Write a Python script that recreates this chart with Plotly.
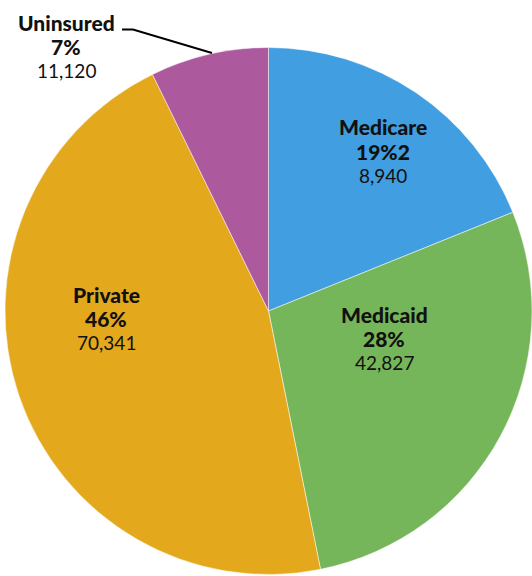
import plotly.graph_objects as go

categories = ["Medicare", "Medicaid", "Private", "Uninsured"]
enrollees = [28940, 42827, 70341, 11120]
colors = ["#419EE1", "#76B65A", "#E3A81C", "#AC599E"]

W, H = 532, 576
ML, MR, MT, MB = 5, 0, 46, 0
PW, PH = W - ML - MR, H - MT - MB


def px(x):
    return (x - ML) / PW


def py(y):
    return 1 - (y - MT) / PH


total = sum(enrollees)
pcts = [round(v / total * 100) for v in enrollees]
vals = [f"{v:,}" for v in enrollees]

label_lines = []
for c, p, v in zip(categories, pcts, vals):
    if c == "Medicare":
        label_lines.append([(c, True), (f"{p}%{v[0]}", True), (v[1:], False)])
    else:
        label_lines.append([(c, True), (f"{p}%", True), (v, False)])

# label centers in pixels (middle line)
label_pos = [(383, 151), (384, 338), (106, 318), (66, 46)]
LINE = 24

fig = go.Figure(
    go.Pie(
        labels=categories,
        values=enrollees,
        sort=False,
        direction="clockwise",
        rotation=0,
        marker=dict(colors=colors, line=dict(color="white", width=0.5)),
        textinfo="none",
        hoverinfo="label+value+percent",
        showlegend=False,
        domain=dict(x=[0, 1], y=[0, 1]),
    )
)

annotations = []
for lines, (x, y) in zip(label_lines, label_pos):
    for i, (t, bold) in enumerate(lines):
        annotations.append(
            dict(
                text=t,
                x=px(x),
                y=py(y + (i - 1) * LINE),
                xref="paper",
                yref="paper",
                xanchor="center",
                yanchor="middle",
                showarrow=False,
                font=dict(
                    family="Lato, Open Sans, sans-serif",
                    size=21 if bold else 19,
                    color="#111111",
                    weight=900 if bold else 400,
                ),
            )
        )

fig.update_layout(
    width=W,
    height=H,
    margin=dict(l=ML, r=MR, t=MT, b=MB),
    paper_bgcolor="white",
    plot_bgcolor="white",
    annotations=annotations,
    shapes=[
        dict(
            type="path",
            xref="paper",
            yref="paper",
            path=f"M {px(122)} {py(29.5)} L {px(133)} {py(29.5)} L {px(212)} {py(53)}",
            line=dict(color="black", width=2),
        )
    ],
)

fig.write_html("out.html")
